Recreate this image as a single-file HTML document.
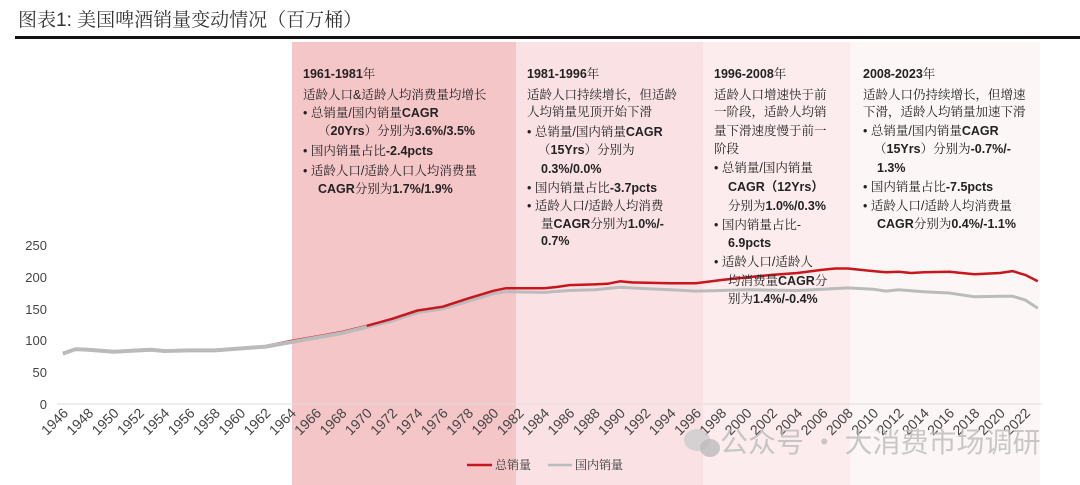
<!DOCTYPE html>
<html><head><meta charset="utf-8"><style>
html,body{margin:0;padding:0;background:#fff;}
svg{display:block;}
.t{font-family:"Liberation Sans","Noto Serif CJK SC",serif;font-size:12.5px;fill:#222;}
.b{font-weight:bold;font-family:"Liberation Sans","Noto Sans CJK SC",sans-serif;}
.ax{font-family:"Liberation Sans",sans-serif;font-size:13px;fill:#444;}
</style></head><body>
<svg id="s" width="1080" height="485" xmlns="http://www.w3.org/2000/svg">
<rect x="0" y="0" width="1080" height="485" fill="#fff"/>
<text x="18" y="26" style="font-family:'Liberation Sans','Noto Serif CJK SC',serif;font-size:19px;fill:#333">图表1: 美国啤酒销量变动情况（百万桶）</text>
<rect x="15" y="36" width="1065" height="3" fill="#111"/>
<rect x="292" y="42" width="224" height="443" fill="#f5c6c8"/>
<rect x="516" y="42" width="187" height="443" fill="#fae2e4"/>
<rect x="703" y="42" width="147" height="443" fill="#fcecee"/>
<rect x="850" y="42" width="190" height="443" fill="#fdf6f6"/>
<line x1="57" y1="404" x2="1042" y2="404" stroke="#ddd" stroke-width="1"/>
<g class="ax" text-anchor="end">
<text x="47" y="250">250</text><text x="47" y="282">200</text><text x="47" y="314">150</text>
<text x="47" y="345">100</text><text x="47" y="377">50</text><text x="47" y="409">0</text>
</g>
<g id="ticks"></g>
<polyline id="dom" fill="none" stroke="#bbb" stroke-width="3" stroke-linejoin="round"/>
<polyline id="tot" fill="none" stroke="#c8161e" stroke-width="2.5" stroke-linejoin="round"/>
<polyline id="dom2" fill="none" stroke="#bbb" stroke-width="3" stroke-linejoin="round"/>
<g class="t">
<text x="303" y="78" class="b">1961-1981<tspan class="t" style="font-weight:normal">年</tspan></text>
<text x="303" y="99">适龄人口&amp;适龄人均消费量均增长</text>
<text x="303" y="117">•  总销量/国内销量<tspan class="b">CAGR</tspan></text>
<text x="318" y="135">（<tspan class="b">20Yrs</tspan>）分别为<tspan class="b">3.6%/3.5%</tspan></text>
<text x="303" y="155">•  国内销量占比<tspan class="b">-2.4pcts</tspan></text>
<text x="303" y="175">•  适龄人口/适龄人口人均消费量</text>
<text x="318" y="193" class="b">CAGR<tspan class="t" style="font-weight:normal">分别为</tspan>1.7%/1.9%</text>

<text x="527" y="78" class="b">1981-1996<tspan class="t" style="font-weight:normal">年</tspan></text>
<text x="527" y="99">适龄人口持续增长，但适龄</text>
<text x="527" y="116">人均销量见顶开始下滑</text>
<text x="527" y="136">•  总销量/国内销量<tspan class="b">CAGR</tspan></text>
<text x="538" y="154">（<tspan class="b">15Yrs</tspan>）分别为</text>
<text x="541" y="173" class="b">0.3%/0.0%</text>
<text x="527" y="192">•  国内销量占比<tspan class="b">-3.7pcts</tspan></text>
<text x="527" y="210">•  适龄人口/适龄人均消费</text>
<text x="541" y="228">量<tspan class="b">CAGR</tspan>分别为<tspan class="b">1.0%/-</tspan></text>
<text x="541" y="245" class="b">0.7%</text>

<text x="714" y="78" class="b">1996-2008<tspan class="t" style="font-weight:normal">年</tspan></text>
<text x="714" y="99">适龄人口增速快于前</text>
<text x="714" y="116">一阶段，适龄人均销</text>
<text x="714" y="135">量下滑速度慢于前一</text>
<text x="714" y="153">阶段</text>
<text x="714" y="172">•  总销量/国内销量</text>
<text x="728" y="191" class="b">CAGR（12Yrs）</text>
<text x="728" y="210">分别为<tspan class="b">1.0%/0.3%</tspan></text>
<text x="714" y="229">•  国内销量占比-</text>
<text x="728" y="247" class="b">6.9pcts</text>
<text x="714" y="266">•  适龄人口/适龄人</text>
<text x="728" y="285">均消费量<tspan class="b">CAGR</tspan>分</text>
<text x="728" y="303">别为<tspan class="b">1.4%/-0.4%</tspan></text>

<text x="863" y="78" class="b">2008-2023<tspan class="t" style="font-weight:normal">年</tspan></text>
<text x="863" y="99">适龄人口仍持续增长，但增速</text>
<text x="863" y="116">下滑，适龄人均销量加速下滑</text>
<text x="863" y="135">•  总销量/国内销量<tspan class="b">CAGR</tspan></text>
<text x="874" y="153">（<tspan class="b">15Yrs</tspan>）分别为<tspan class="b">-0.7%/-</tspan></text>
<text x="877" y="172" class="b">1.3%</text>
<text x="863" y="191">•  国内销量占比<tspan class="b">-7.5pcts</tspan></text>
<text x="863" y="210">•  适龄人口/适龄人均消费量</text>
<text x="877" y="228" class="b">CAGR<tspan class="t" style="font-weight:normal">分别为</tspan>0.4%/-1.1%</text>
</g>
<line x1="467" y1="465" x2="492" y2="465" stroke="#c8161e" stroke-width="2.5"/>
<text x="495" y="469" style="font-family:'Noto Serif CJK SC',serif;font-size:12px;fill:#333">总销量</text>
<line x1="548" y1="465" x2="572" y2="465" stroke="#bbb" stroke-width="2.5"/>
<text x="575" y="469" style="font-family:'Noto Serif CJK SC',serif;font-size:12px;fill:#333">国内销量</text>
<ellipse cx="697" cy="440" rx="13" ry="11" fill="#ccc" opacity="0.8"/>
<ellipse cx="710" cy="448" rx="10" ry="9" fill="#bbb" opacity="0.8"/>
<text x="720" y="452" style="font-family:'Noto Sans CJK SC',sans-serif;font-size:28px;fill:#bbb;opacity:0.8">公众号 · 大消费市场调研</text>
</svg>
<script>
var X=function(y){return 63+(y-1946)*12.66;},Y=function(v){return 404-v*0.636;};
var tot=[[1946,80],[1947,87],[1948,86],[1950,83],[1952,85],[1953,86],[1954,84],[1956,85],[1958,85],[1960,88],[1962,91],[1964,99],[1966,106],[1968,113],[1970,123],[1972,134],[1974,147],[1976,153],[1978,166],[1980,178],[1981,182],[1984,182],[1985,184],[1986,187],[1988,188],[1989,189],[1990,193],[1991,191],[1994,190],[1996,190],[1998,195],[2000,199],[2002,203],[2004,206],[2006,211],[2007,213],[2008,213],[2010,209],[2011,207],[2012,208],[2013,206],[2014,207],[2016,208],[2018,204],[2020,206],[2021,209],[2022,203],[2023,193]];
var dom=[[1946,80],[1947,87],[1948,86],[1950,83],[1952,85],[1953,86],[1954,84],[1956,85],[1958,85],[1960,88],[1962,91],[1964,98],[1966,105],[1968,112],[1970,122],[1972,132],[1974,145],[1976,151],[1978,163],[1980,175],[1981,178],[1984,177],[1986,180],[1988,181],[1990,185],[1992,183],[1994,181],[1996,179],[1998,180],[2000,181],[2004,180],[2006,182],[2008,184],[2010,182],[2011,179],[2012,181],[2014,178],[2016,176],[2018,170],[2020,171],[2021,171],[2022,165],[2023,152]];
function pts(a){return a.map(function(p){return X(p[0]).toFixed(1)+","+Y(p[1]).toFixed(1)}).join(" ");}
document.getElementById("tot").setAttribute("points",pts(tot));
document.getElementById("dom").setAttribute("points",pts(dom.map(function(p){return [p[0],p[1]-1.5];})));
document.getElementById("dom2").setAttribute("points",pts(dom.slice(0,15)));
var g=document.getElementById("ticks"),h="";
for(var y=1946;y<=2022;y+=2){var x=X(y)+6;h+='<text class="ax" text-anchor="end" transform="translate('+x+',414) rotate(-45)" style="font-size:14px">'+y+'</text>';}
g.innerHTML=h;
</script>
</body></html>
